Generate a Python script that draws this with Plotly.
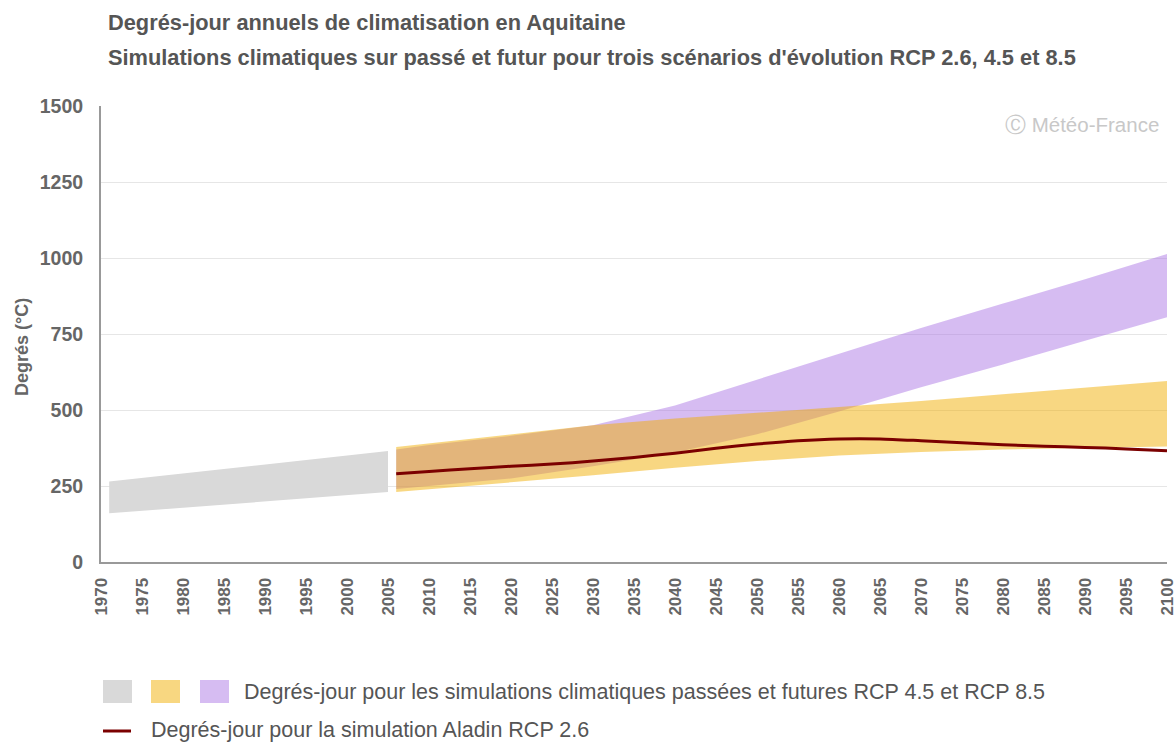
import plotly.graph_objects as go

# --- data ---
hist_years = [1971, 2005]
hist_low = [160, 230]
hist_high = [265, 365]

fut_years = [2006, 2010, 2020, 2030, 2040, 2050, 2060, 2070, 2080, 2090, 2100]
rcp45_low = [230, 240, 262, 285, 310, 332, 350, 362, 370, 376, 380]
rcp45_high = [378, 390, 420, 450, 472, 490, 510, 530, 552, 574, 595]
rcp85_low = [240, 250, 275, 315, 360, 420, 495, 575, 650, 728, 805]
rcp85_high = [370, 385, 415, 450, 515, 600, 685, 770, 850, 930, 1013]

aladin_years = [2006, 2010, 2015, 2020, 2025, 2030, 2035, 2040, 2045, 2050,
                2055, 2060, 2065, 2070, 2075, 2080, 2085, 2090, 2095, 2100]
aladin_rcp26 = [290, 298, 307, 315, 322, 332, 344, 358, 374, 388,
                399, 405, 405, 399, 392, 386, 381, 377, 372, 366]

x_ticks = list(range(1970, 2101, 5))
y_ticks = [0, 250, 500, 750, 1000, 1250, 1500]

TITLE = "Degrés-jour annuels de climatisation en Aquitaine"
SUBTITLE = ("Simulations climatiques sur passé et futur pour trois scénarios "
            "d'évolution RCP 2.6, 4.5 et 8.5")
Y_TITLE = "Degrés (°C)"
LEGEND_BANDS = "Degrés-jour pour les simulations climatiques passées et futures RCP 4.5 et RCP 8.5"
LEGEND_LINE = "Degrés-jour pour la simulation Aladin RCP 2.6"

FONT = "Liberation Sans, Arial, sans-serif"
GREY_TXT = "#666666"

# plot area in page pixels
W, H = 1176, 742
PX_L, PX_R, PX_T, PX_B = 101, 1167, 106, 562


def px_x(px):
    return (px - PX_L) / (PX_R - PX_L)


def px_y(py):
    return (PX_B - py) / (PX_B - PX_T)


def band(years, low, high, color):
    """Closed polygon between low and high curves."""
    return go.Scatter(
        x=list(years) + list(years)[::-1],
        y=list(high) + list(low)[::-1],
        fill="toself",
        fillcolor=color,
        line=dict(width=0),
        mode="lines",
        hoverinfo="skip",
        showlegend=False,
    )


fig = go.Figure()
fig.add_trace(band(hist_years, hist_low, hist_high, "#D9D9D9"))
# purple below, yellow drawn on top -> orange overlap
fig.add_trace(band(fut_years, rcp85_low, rcp85_high, "rgba(171,118,229,0.49)"))
fig.add_trace(band(fut_years, rcp45_low, rcp45_high, "rgba(241,173,0,0.49)"))
fig.add_trace(go.Scatter(
    x=aladin_years, y=aladin_rcp26, mode="lines",
    line=dict(color="#7B0000", width=3, shape="spline", smoothing=0.8),
    showlegend=False,
))

# titles
for txt, ypx in [(TITLE, 22), (SUBTITLE, 58)]:
    fig.add_annotation(
        x=px_x(106), y=px_y(ypx), xref="paper", yref="paper",
        xanchor="left", yanchor="middle", text=f"<b>{txt}</b>", showarrow=False,
        font=dict(family=FONT, size=21.8, color="#555555"),
    )

# y-axis title
fig.add_annotation(
    x=px_x(22), y=px_y(347), xref="paper", yref="paper",
    xanchor="center", yanchor="middle", textangle=-90, text=f"<b>{Y_TITLE}</b>",
    showarrow=False, font=dict(family=FONT, size=18, color=GREY_TXT),
)

# watermark
fig.add_annotation(
    x=px_x(1161), y=px_y(125), xref="paper", yref="paper",
    xanchor="right", yanchor="middle", text="Ⓒ Météo-France", showarrow=False,
    font=dict(family=FONT, size=20.5, color="#C8C8C8"),
)

# custom legend
for x0, col in [(103, "#D9D9D9"), (151, "#F8D781"), (200, "#D6BCF2")]:
    fig.add_shape(type="rect", xref="paper", yref="paper",
                  x0=px_x(x0), x1=px_x(x0 + 29), y0=px_y(680), y1=px_y(703),
                  fillcolor=col, line=dict(width=0))
fig.add_shape(type="line", xref="paper", yref="paper",
              x0=px_x(103), x1=px_x(131), y0=px_y(731), y1=px_y(731),
              line=dict(color="#7B0000", width=3))
fig.add_annotation(x=px_x(242), y=px_y(692), xref="paper", yref="paper",
                   xanchor="left", yanchor="middle", text=LEGEND_BANDS, showarrow=False,
                   font=dict(family=FONT, size=21.5, color="#555555"))
fig.add_annotation(x=px_x(149), y=px_y(730), xref="paper", yref="paper",
                   xanchor="left", yanchor="middle", text=LEGEND_LINE, showarrow=False,
                   font=dict(family=FONT, size=21.5, color="#555555"))

fig.update_layout(
    width=W, height=H,
    margin=dict(l=PX_L, r=W - PX_R, t=PX_T, b=H - PX_B),
    plot_bgcolor="white", paper_bgcolor="white",
    showlegend=False,
    font=dict(family=FONT, color=GREY_TXT),
)
fig.update_xaxes(
    range=[1970, 2100], tickvals=x_ticks, ticktext=[f"<b>{v}</b>" for v in x_ticks],
    tickangle=-90, tickfont=dict(size=17, color=GREY_TXT, family=FONT),
    showgrid=False, zeroline=False, showline=True, linecolor="#999999", linewidth=2,
    ticks="", ticklabelstandoff=7, ticklabeloverflow="allow", automargin=False,
)
fig.update_yaxes(
    range=[0, 1500], tickvals=y_ticks, ticktext=[f"<b>{v}</b>" for v in y_ticks],
    tickfont=dict(size=19.5, color=GREY_TXT, family=FONT),
    showgrid=True, gridcolor="#E6E6E6", gridwidth=1, zeroline=False,
    showline=True, linecolor="#999999", linewidth=2, ticks="", ticklabelstandoff=12,
    automargin=False,
)

# drop the default 8px page margin so the figure fills the window exactly
fig.write_html("out.html", config={"displayModeBar": False},
               post_script="document.body.style.margin='0';")
